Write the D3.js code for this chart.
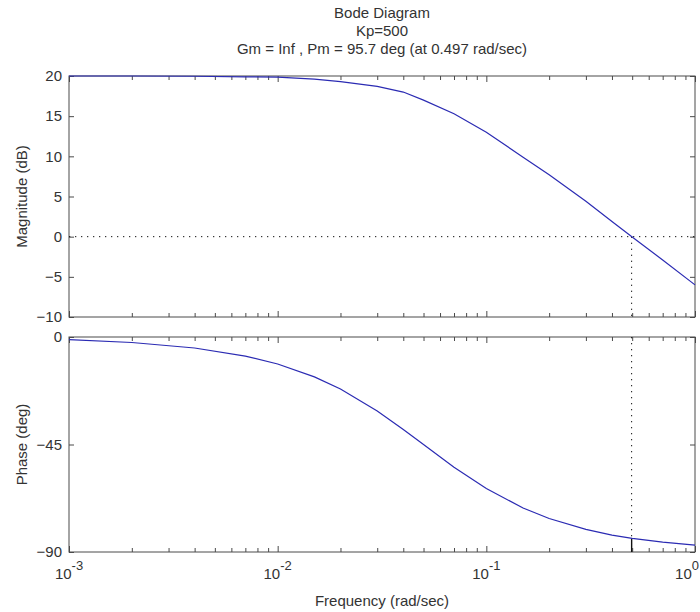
<!DOCTYPE html>
<html>
<head>
<meta charset="utf-8">
<script src="https://cdn.jsdelivr.net/npm/d3@7"></script>
<style>
  body { margin: 0; background: #fff; }
  text { font-family: "Liberation Sans", Arial, sans-serif; fill: #333; }
</style>
</head>
<body>
<script>
// values
var freq     = [0.001, 0.002, 0.004, 0.007, 0.01, 0.015, 0.02, 0.03, 0.04, 0.05, 0.07, 0.1, 0.15, 0.2, 0.3, 0.4, 0.5, 0.7, 1.0];
var magDb    = [20.0, 20.0, 19.97, 19.9, 19.85, 19.6, 19.3, 18.7, 18.0, 17.0, 15.3, 13.0, 9.9, 7.7, 4.4, 1.9, -0.05, -2.9, -6.0];
var phaseDeg = [-1.1, -2.3, -4.6, -8.0, -11.3, -16.7, -21.8, -31.0, -38.7, -45.0, -54.5, -63.4, -71.6, -76.0, -80.5, -82.9, -84.3, -85.9, -87.1];

var magTicks = [20, 15, 10, 5, 0, -5, -10];
var phaseTicks = [0, -45, -90];
var decades = [-3, -2, -1, 0];
var titleLines = ["Bode Diagram", "Kp=500", "Gm = Inf ,  Pm = 95.7 deg (at 0.497 rad/sec)"];
var crossFreq = 0.497;
var crossPhase = -84.3;

var width = 700, height = 612;
var left = 69, right = 695;
var magTop = 76, magBottom = 317;
var phTop = 337, phBottom = 552;
var axisColor = "#4a4a4a";
var lineColor = "#2b2bb3";
var fs = 15;

var svg = d3.select("body").append("svg")
    .attr("width", width)
    .attr("height", height);

var x = d3.scaleLog().domain([1e-3, 1]).range([left, right]);
var yMag = d3.scaleLinear().domain([-10, 20]).range([magBottom, magTop]);
var yPh = d3.scaleLinear().domain([-90, 0]).range([phBottom, phTop]);

var allTicks = x.ticks();
var majorTicks = decades.map(d => Math.pow(10, d));
var minorTicks = allTicks.filter(t => majorTicks.indexOf(t) < 0);

function drawPanel(y, yTicks, top, bottom) {
    var g = svg.append("g");
    g.append("rect")
        .attr("x", left).attr("y", top)
        .attr("width", right - left).attr("height", bottom - top)
        .attr("fill", "none").attr("stroke", axisColor);

    // x ticks pointing inward, top and bottom
    [[d3.axisBottom, bottom], [d3.axisTop, top]].forEach(function (p) {
        g.append("g").attr("transform", "translate(0," + p[1] + ")")
            .call(p[0](x).tickValues(minorTicks).tickSize(-4).tickSizeOuter(0).tickFormat(""));
        g.append("g").attr("transform", "translate(0," + p[1] + ")")
            .call(p[0](x).tickValues(majorTicks).tickSize(-6).tickSizeOuter(0).tickFormat(""));
    });

    g.append("g").attr("transform", "translate(" + left + ",0)")
        .call(d3.axisLeft(y).tickValues(yTicks).tickSize(-5).tickSizeOuter(0).tickPadding(7));
    g.append("g").attr("transform", "translate(" + right + ",0)")
        .call(d3.axisRight(y).tickValues(yTicks).tickSize(-5).tickSizeOuter(0).tickFormat(""));

    g.selectAll(".domain").remove();
    g.selectAll(".tick line").attr("stroke", axisColor);
    g.selectAll(".tick text").attr("font-size", fs).attr("fill", "#333")
        .style("font-family", "'Liberation Sans', Arial, sans-serif");
    return g;
}

var magG = drawPanel(yMag, magTicks, magTop, magBottom);
var phG = drawPanel(yPh, phaseTicks, phTop, phBottom);

// margin markers
var dots = "1.3,4.7";
magG.append("line")
    .attr("x1", left).attr("x2", right)
    .attr("y1", yMag(0)).attr("y2", yMag(0))
    .attr("stroke", "#111").attr("stroke-dasharray", dots);
magG.append("line")
    .attr("x1", x(crossFreq)).attr("x2", x(crossFreq))
    .attr("y1", yMag(0)).attr("y2", magBottom)
    .attr("stroke", "#111").attr("stroke-dasharray", dots);
phG.append("line")
    .attr("x1", x(crossFreq)).attr("x2", x(crossFreq))
    .attr("y1", phTop).attr("y2", yPh(crossPhase))
    .attr("stroke", "#111").attr("stroke-dasharray", dots);
phG.append("line")
    .attr("x1", x(crossFreq)).attr("x2", x(crossFreq))
    .attr("y1", yPh(crossPhase)).attr("y2", phBottom)
    .attr("stroke", "#111").attr("stroke-width", 1.4);

// curves
var magLine = d3.line().x((d, i) => x(freq[i])).y(d => yMag(d));
var phLine = d3.line().x((d, i) => x(freq[i])).y(d => yPh(d));

magG.append("path").datum(magDb)
    .attr("d", magLine)
    .attr("fill", "none").attr("stroke", lineColor).attr("stroke-width", 1.2);
phG.append("path").datum(phaseDeg)
    .attr("d", phLine)
    .attr("fill", "none").attr("stroke", lineColor).attr("stroke-width", 1.2);

// x tick labels, 10 with superscript exponent
var xl = svg.append("g");
decades.forEach(function (d) {
    var last = d === decades[decades.length - 1];
    var t = xl.append("text")
        .attr("x", last ? width - 1 : x(Math.pow(10, d)))
        .attr("y", 579)
        .attr("text-anchor", last ? "end" : "middle")
        .attr("font-size", fs);
    t.append("tspan").text("10");
    t.append("tspan").attr("dy", -9).attr("font-size", fs - 2).text(d);
});

// titles
titleLines.forEach(function (s, i) {
    svg.append("text")
        .attr("x", (left + right) / 2)
        .attr("y", 18 + i * 18)
        .attr("text-anchor", "middle")
        .attr("font-size", fs)
        .text(s);
});

svg.append("text")
    .attr("x", (left + right) / 2)
    .attr("y", 606)
    .attr("text-anchor", "middle")
    .attr("font-size", fs)
    .text("Frequency  (rad/sec)");

svg.append("text")
    .attr("transform", "translate(27," + (magTop + magBottom) / 2 + ") rotate(-90)")
    .attr("text-anchor", "middle")
    .attr("font-size", fs)
    .text("Magnitude (dB)");

svg.append("text")
    .attr("transform", "translate(27," + (phTop + phBottom) / 2 + ") rotate(-90)")
    .attr("text-anchor", "middle")
    .attr("font-size", fs)
    .text("Phase (deg)");
</script>
</body>
</html>
